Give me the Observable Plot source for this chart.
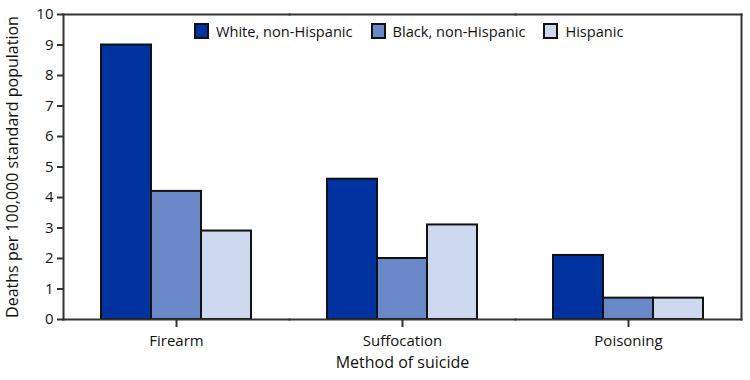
<!DOCTYPE html>
<html><head><meta charset="utf-8">
<script src="https://cdn.jsdelivr.net/npm/d3@7"></script>
<script src="https://cdn.jsdelivr.net/npm/@observablehq/plot@0.6"></script>
<style>
body{margin:0;background:#fff;font-family:"Open Sans",sans-serif;}
#wrap{position:relative;width:750px;height:380px;}
#legend{position:absolute;top:23px;left:194px;display:flex;align-items:center;font-size:14.6px;color:#111;line-height:16px;}
.item{display:flex;align-items:center;margin-right:18px;white-space:nowrap;}
.sw{width:11px;height:12px;border:2px solid #111;margin-right:7px;box-sizing:content-box;}
svg g[aria-label$="axis label"] text{font-size:16px;}
</style></head><body>
<div id="wrap"><div id="legend"></div></div>
<script>
const methods = ["Firearm", "Suffocation", "Poisoning"];
const groups = ["White, non-Hispanic", "Black, non-Hispanic", "Hispanic"];
const white = [9.0, 4.6, 2.1];
const black = [4.2, 2.0, 0.7];
const hispanic = [2.9, 3.1, 0.7];
const colors = ["#0033a0", "#6a87c8", "#cdd7ee"];
const yTicks = [0, 1, 2, 3, 4, 5, 6, 7, 8, 9, 10];

const series = [white, black, hispanic];
const data = methods.flatMap((m, i) => groups.map((g, j) => ({method: m, group: g, value: series[j][i]})));

const chart = Plot.plot({
  width: 750, height: 380,
  marginLeft: 63, marginRight: 9, marginTop: 14, marginBottom: 61,
  style: {fontFamily: "'Open Sans', sans-serif", fontSize: "15px", color: "#111", background: "#fff"},
  fx: {domain: methods, padding: 0, axis: null},
  x: {domain: groups, paddingInner: 0, paddingOuter: 0.76, axis: null},
  y: {domain: [0, 10], axis: null},
  color: {domain: groups, range: colors},
  marks: [
    Plot.barY(data, {fx: "method", x: "group", y: "value", fill: "group", stroke: "#111", strokeWidth: 2}),
    Plot.axisFx({anchor: "bottom", tickSize: 8, tickPadding: 8, label: "Method of suicide", labelAnchor: "center", labelOffset: 48, labelArrow: false, stroke: "#333", strokeWidth: 2}),
    Plot.axisY({ticks: yTicks, tickSize: 6, tickPadding: 4, label: "Deaths per 100,000 standard population",
                labelAnchor: "center", labelOffset: 57, labelArrow: false, facetAnchor: "left", stroke: "#333", strokeWidth: 2}),
    Plot.frame({anchor: "top", stroke: "#333", strokeWidth: 2}),
    Plot.frame({anchor: "bottom", stroke: "#333", strokeWidth: 2}),
    Plot.frame({anchor: "left", facetAnchor: "left", stroke: "#333", strokeWidth: 2}),
    Plot.frame({anchor: "right", facetAnchor: "right", stroke: "#333", strokeWidth: 2})
  ]
});
document.getElementById("wrap").prepend(chart);

const legend = document.getElementById("legend");
groups.forEach((g, j) => {
  const it = document.createElement("div");
  it.className = "item";
  const sw = document.createElement("span");
  sw.className = "sw";
  sw.style.background = colors[j];
  const t = document.createElement("span");
  t.textContent = g;
  it.append(sw, t);
  legend.append(it);
});
</script>
</body></html>
